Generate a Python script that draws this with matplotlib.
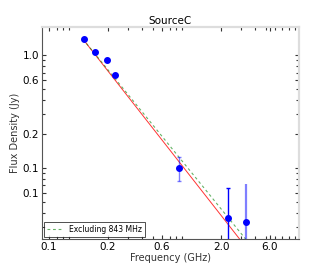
import matplotlib
matplotlib.use("Agg")
import matplotlib.pyplot as plt
from matplotlib.ticker import FixedFormatter, FixedLocator, LogLocator, NullFormatter

freq = [0.1225, 0.153, 0.197, 0.231]
flux = [1.38, 1.06, 0.91, 0.665]

freq_843 = [0.843]
flux_843 = [0.1]
err_843 = [0.024]

freq_nv = [2.3]
flux_nv = [0.036]
err_nv = [0.031]

freq_hi = [3.3]
flux_hi = [0.033]
err_hi = [0.039]

# droites d'ajustement (extrémités)
fit_freq = [0.12, 3.3]
fit_all = [1.38, 0.0201]
fit_excl = [1.38, 0.0235]

xticks = [0.06, 0.2, 0.6, 2.0, 5.4]
xtick_labels = ["0.1", "0.2", "0.6", "2.0", "6.0"]
yticks = [0.06, 0.1, 0.2, 0.6, 1.0]
ytick_labels = ["0.1", "0.1", "0.2", "0.6", "1.0"]

fig = plt.figure(figsize=(3.32, 2.66), dpi=100)
ax = fig.add_axes([0.1265, 0.1015, 0.774, 0.797])

ax.plot(fit_freq, fit_all, color='red', lw=0.7, alpha=0.8)
ax.plot(fit_freq, fit_excl, color='green', lw=0.8, ls=(0, (2.5, 2.5)), alpha=0.6,
        label="Excluding 843 MHz")

ax.errorbar(freq_843, flux_843, yerr=err_843, fmt='none', ecolor='blue',
            alpha=0.5, elinewidth=1.0, capsize=1.2)
ax.errorbar(freq_nv, flux_nv, yerr=err_nv, fmt='none', ecolor='blue',
            elinewidth=1.0, capsize=1.2)
ax.errorbar(freq_hi, flux_hi, yerr=err_hi, fmt='none', ecolor='blue',
            alpha=0.5, elinewidth=1.6, capsize=0)

ax.plot(freq + freq_843 + freq_nv + freq_hi,
        flux + flux_843 + flux_nv + flux_hi,
        'o', color='blue', ms=4, mec='blue')

ax.set_xscale('log')
ax.set_yscale('log')
ax.set_xlim(0.052, 9.8)
ax.set_ylim(0.0235, 1.77)

ax.xaxis.set_major_locator(FixedLocator(xticks))
ax.yaxis.set_major_locator(FixedLocator(yticks))
ax.xaxis.set_major_formatter(FixedFormatter(xtick_labels))
ax.yaxis.set_major_formatter(FixedFormatter(ytick_labels))
ax.xaxis.set_minor_locator(LogLocator(subs=range(2, 10)))
ax.yaxis.set_minor_locator(LogLocator(subs=range(2, 10)))
ax.xaxis.set_minor_formatter(NullFormatter())
ax.yaxis.set_minor_formatter(NullFormatter())

ax.tick_params(which='both', direction='in', top=True, right=True,
               color='#333333', width=0.8)
ax.tick_params(which='major', length=3, labelsize=7.5, pad=2)
ax.tick_params(which='minor', length=2)

for s in ['left', 'bottom']:
    ax.spines[s].set_color('#555555')
    ax.spines[s].set_linewidth(0.8)
for s in ['top', 'right']:
    ax.spines[s].set_color('#dddddd')
    ax.spines[s].set_linewidth(1.6)

ax.set_title("SourceC", fontsize=7.5, pad=2)
ax.set_xlabel("Frequency (GHz)", fontsize=7, labelpad=1, color='#333333')
ax.set_ylabel("Flux Density (Jy)", fontsize=7, labelpad=2, color='#333333')

leg = ax.legend(loc='lower left', fontsize=5.5, frameon=True, fancybox=False,
                borderaxespad=0.3, handlelength=2.0, borderpad=0.4)
leg.get_frame().set_edgecolor('black')
leg.get_frame().set_linewidth(0.6)

fig.savefig("out.png", dpi=100)
